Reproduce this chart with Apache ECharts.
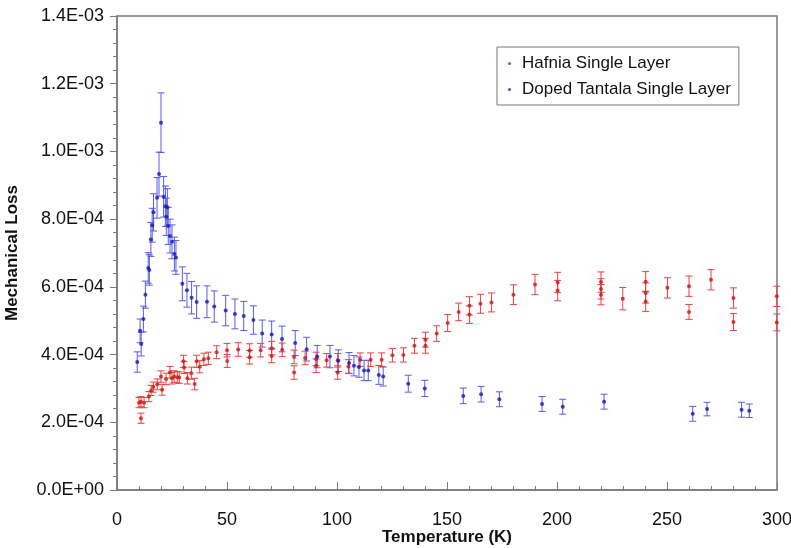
<!DOCTYPE html>
<html>
<head>
<meta charset="utf-8">
<script src="https://cdn.jsdelivr.net/npm/echarts@6/dist/echarts.min.js"></script>
<style>
html,body{margin:0;padding:0;background:#fff;}
#chart{width:791px;height:548px;}
</style>
</head>
<body>
<div id="chart"></div>
<script>
// Hafnia Single Layer: temperature (K), mechanical loss, error (±)
const hafniaT = [10.0,10.9,10.9,12.3,14.5,15.5,16.5,18.3,20.0,20.5,22.3,24.1,25.0,26.0,27.4,28.3,30.2,30.5,32.0,33.8,35.3,36.2,37.6,39.5,41.5,45.3,50.0,50.1,55.1,60.3,60.3,65.3,70.3,70.3,75.1,80.5,80.5,85.5,90.5,90.5,95.3,100.3,100.3,105.2,110.5,115.3,120.3,125.2,130.2,135.2,140.2,140.2,145.3,150.3,155.3,160.2,160.2,165.2,170.2,180.2,190.0,200.3,200.3,220.0,220.0,220.0,229.9,240.3,240.3,240.3,250.2,260.0,260.0,270.0,280.2,280.2,299.9,299.9];
const hafniaLoss = [2.58e-4,2.12e-4,2.61e-4,2.58e-4,2.76e-4,2.94e-4,3.04e-4,3.12e-4,3.35e-4,2.96e-4,3.28e-4,3.48e-4,3.30e-4,3.35e-4,3.33e-4,3.32e-4,3.80e-4,3.62e-4,3.30e-4,3.45e-4,3.13e-4,3.80e-4,3.64e-4,3.86e-4,3.89e-4,4.07e-4,4.13e-4,3.81e-4,4.15e-4,4.12e-4,3.92e-4,4.13e-4,4.19e-4,3.96e-4,4.14e-4,3.93e-4,3.47e-4,3.90e-4,3.87e-4,3.67e-4,3.83e-4,3.83e-4,3.47e-4,3.65e-4,3.85e-4,3.85e-4,3.85e-4,3.98e-4,3.99e-4,4.26e-4,4.26e-4,4.44e-4,4.62e-4,4.93e-4,5.26e-4,5.44e-4,5.18e-4,5.50e-4,5.54e-4,5.77e-4,6.07e-4,6.13e-4,5.89e-4,6.14e-4,5.94e-4,5.77e-4,5.65e-4,6.15e-4,5.82e-4,5.57e-4,5.97e-4,6.02e-4,5.26e-4,6.21e-4,5.67e-4,4.96e-4,5.72e-4,4.95e-4];
const hafniaErr = [0.15e-4,0.15e-4,0.15e-4,0.15e-4,0.15e-4,0.15e-4,0.15e-4,0.16e-4,0.17e-4,0.16e-4,0.17e-4,0.17e-4,0.17e-4,0.17e-4,0.17e-4,0.17e-4,0.18e-4,0.18e-4,0.17e-4,0.18e-4,0.17e-4,0.18e-4,0.18e-4,0.18e-4,0.18e-4,0.19e-4,0.2e-4,0.19e-4,0.2e-4,0.2e-4,0.2e-4,0.2e-4,0.2e-4,0.2e-4,0.2e-4,0.2e-4,0.2e-4,0.2e-4,0.2e-4,0.2e-4,0.2e-4,0.2e-4,0.2e-4,0.2e-4,0.2e-4,0.2e-4,0.2e-4,0.2e-4,0.21e-4,0.22e-4,0.22e-4,0.22e-4,0.23e-4,0.25e-4,0.26e-4,0.27e-4,0.26e-4,0.28e-4,0.28e-4,0.29e-4,0.3e-4,0.3e-4,0.3e-4,0.3e-4,0.3e-4,0.3e-4,0.33e-4,0.3e-4,0.3e-4,0.3e-4,0.3e-4,0.3e-4,0.22e-4,0.3e-4,0.3e-4,0.25e-4,0.3e-4,0.25e-4];

// Doped Tantala Single Layer
const tantalaT = [9.2,10.5,11.0,12.0,12.9,14.2,14.7,15.4,16.0,16.6,18.2,19.1,20.0,21.2,22.0,22.4,22.9,23.3,24.1,25.0,26.1,26.8,29.7,31.8,33.9,36.2,40.9,44.2,49.4,53.6,57.6,62.0,66.0,70.3,75.0,81.0,86.2,91.0,96.8,100.6,105.5,107.7,110.0,112.3,114.2,119.0,121.0,132.4,139.9,157.4,165.5,173.8,193.2,202.6,221.4,261.7,268.2,283.9,287.4];
const tantalaLoss = [3.78e-4,4.70e-4,4.31e-4,5.05e-4,5.77e-4,6.56e-4,6.50e-4,7.40e-4,7.82e-4,8.20e-4,8.63e-4,9.33e-4,10.85e-4,8.66e-4,8.38e-4,8.07e-4,8.35e-4,7.80e-4,7.50e-4,7.33e-4,6.97e-4,6.87e-4,6.09e-4,5.90e-4,5.68e-4,5.55e-4,5.56e-4,5.42e-4,5.30e-4,5.20e-4,5.14e-4,5.02e-4,4.62e-4,4.59e-4,4.46e-4,4.34e-4,4.16e-4,3.94e-4,3.94e-4,3.82e-4,3.75e-4,3.67e-4,3.63e-4,3.53e-4,3.53e-4,3.40e-4,3.35e-4,3.14e-4,3.00e-4,2.78e-4,2.83e-4,2.68e-4,2.54e-4,2.46e-4,2.61e-4,2.25e-4,2.39e-4,2.37e-4,2.34e-4];
const tantalaErr = [0.3e-4,0.35e-4,0.35e-4,0.38e-4,0.4e-4,0.45e-4,0.45e-4,0.5e-4,0.5e-4,0.55e-4,0.6e-4,0.65e-4,0.88e-4,0.6e-4,0.6e-4,0.55e-4,0.55e-4,0.55e-4,0.5e-4,0.5e-4,0.5e-4,0.5e-4,0.5e-4,0.5e-4,0.48e-4,0.48e-4,0.47e-4,0.46e-4,0.45e-4,0.44e-4,0.43e-4,0.42e-4,0.4e-4,0.4e-4,0.38e-4,0.37e-4,0.35e-4,0.33e-4,0.33e-4,0.32e-4,0.31e-4,0.3e-4,0.3e-4,0.3e-4,0.3e-4,0.28e-4,0.28e-4,0.25e-4,0.24e-4,0.23e-4,0.23e-4,0.22e-4,0.22e-4,0.22e-4,0.22e-4,0.22e-4,0.2e-4,0.22e-4,0.2e-4];

const xTicks = [0,50,100,150,200,250,300];
const yTicks = [0,2e-4,4e-4,6e-4,8e-4,10e-4,12e-4,14e-4];

function fmtE(v){
  if (Math.abs(v) < 1e-12) return '0.0E+00';
  const s = v.toExponential(1).split('e');
  let e = parseInt(s[1],10);
  const sign = e < 0 ? '-' : '+';
  e = Math.abs(e);
  return s[0] + 'E' + sign + (e < 10 ? '0' + e : '' + e);
}

function pts(T, L){ return T.map((t,i)=>[t, L[i]]); }
function errs(T, L, E){ return T.map((t,i)=>[t, L[i]-E[i], L[i]+E[i]]); }

function errRender(color){
  return function(params, api){
    const x = api.value(0);
    const lo = api.coord([x, api.value(1)]);
    const hi = api.coord([x, api.value(2)]);
    const w = 3.5;
    const style = {stroke: color, lineWidth: 1};
    return {
      type: 'group',
      children: [
        {type:'line', shape:{x1:lo[0], y1:lo[1], x2:hi[0], y2:hi[1]}, style: style},
        {type:'line', shape:{x1:lo[0]-w, y1:lo[1], x2:lo[0]+w, y2:lo[1]}, style: style},
        {type:'line', shape:{x1:hi[0]-w, y1:hi[1], x2:hi[0]+w, y2:hi[1]}, style: style}
      ]
    };
  };
}

const chart = echarts.init(document.getElementById('chart'), null, {renderer:'canvas'});
const axisGray = '#7a7a7a';
const option = {
  backgroundColor: '#fff',
  animation: false,
  grid: {left:117, right:14, top:16, bottom:58, containLabel:false, outerBoundsMode:'none',
    show:true, borderColor:axisGray, borderWidth:1.5, backgroundColor:'transparent'},
  legend: {
    orient: 'vertical', left: 497, top: 47,
    data: ['Hafnia Single Layer','Doped Tantala Single Layer'],
    icon: 'circle', itemWidth: 3, itemHeight: 3, itemGap: 9,
    borderColor: '#777', borderWidth: 1, borderRadius: 0,
    padding: [8, 8, 7, 11],
    textStyle: {fontFamily:'Liberation Sans, Arial, sans-serif', fontSize:17, color:'#111', padding:[0,0,0,6]}
  },
  xAxis: {
    type:'value', min:0, max:300, interval:50,
    name:'Temperature (K)', nameLocation:'middle', nameGap:39, nameMoveOverlap:false,
    nameTextStyle:{fontFamily:'Liberation Sans, Arial, sans-serif', fontSize:17, fontWeight:'bold', color:'#111'},
    axisLine:{show:true, lineStyle:{color:axisGray, width:1.5}},
    axisTick:{show:true, inside:true, length:8, lineStyle:{color:axisGray}},
    minorTick:{show:true, splitNumber:5, length:4, lineStyle:{color:axisGray}},
    splitLine:{show:false},
    axisLabel:{fontFamily:'Liberation Sans, Arial, sans-serif', fontSize:18, color:'#111', margin:21,
      customValues: xTicks},
  },
  yAxis: {
    type:'value', min:0, max:1.4e-3, interval:2e-4,
    name:'Mechanical Loss', nameLocation:'middle', nameGap:96, nameRotate:90, nameMoveOverlap:false,
    nameTextStyle:{fontFamily:'Liberation Sans, Arial, sans-serif', fontSize:17, fontWeight:'bold', color:'#111'},
    axisLine:{show:true, lineStyle:{color:axisGray, width:1.5}},
    axisTick:{show:true, length:7, lineStyle:{color:axisGray}},
    minorTick:{show:true, splitNumber:5, length:4, lineStyle:{color:axisGray}},
    splitLine:{show:false},
    axisLabel:{fontFamily:'Liberation Sans, Arial, sans-serif', fontSize:18, color:'#111', margin:13,
      formatter: fmtE},
  },
  series: [
    {name:'Tantala err', type:'custom', renderItem: errRender('#5a5af0'), data: errs(tantalaT, tantalaLoss, tantalaErr), z:2, silent:true},
    {name:'Hafnia err', type:'custom', renderItem: errRender('#ee4040'), data: errs(hafniaT, hafniaLoss, hafniaErr), z:2, silent:true},
    {name:'Hafnia Single Layer', type:'scatter', data: pts(hafniaT, hafniaLoss), symbol:'circle', symbolSize:4, itemStyle:{color:'#d81010'}, z:3},
    {name:'Doped Tantala Single Layer', type:'scatter', data: pts(tantalaT, tantalaLoss), symbol:'circle', symbolSize:4, itemStyle:{color:'#1515c8'}, z:3}
  ]
};
chart.setOption(option);
</script>
</body>
</html>
